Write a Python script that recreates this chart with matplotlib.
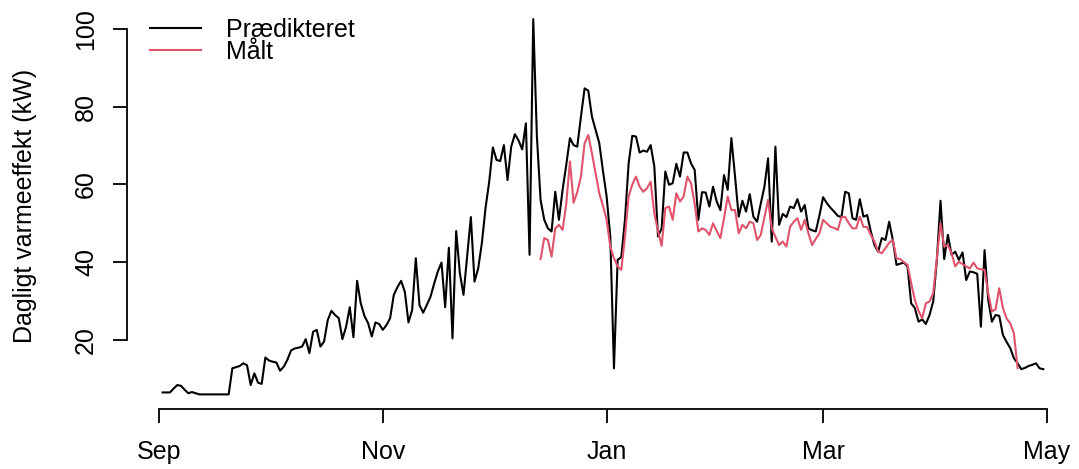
import matplotlib
matplotlib.use("Agg")
import matplotlib.pyplot as plt
import matplotlib.dates as mdates
import pandas as pd

plt.rcParams["font.family"] = ["Liberation Sans", "DejaVu Sans"]

# daily predicted heat demand (kW), from 2 Sep 2022
pred_start = "2022-09-02"
pred_kw = [
    6.5, 6.5, 6.5, 7.5, 8.4, 8.2, 7.2, 6.3, 6.6, 6.3,
    6.0, 6.0, 6.0, 6.0, 6.0, 6.0, 6.0, 6.0, 6.0, 12.7,
    13.0, 13.3, 14.0, 13.5, 8.4, 11.4, 9.0, 8.7, 15.5, 14.7,
    14.4, 14.2, 12.1, 13.1, 14.9, 17.3, 17.8, 18.0, 18.3, 20.2,
    16.6, 22.1, 22.6, 18.3, 19.6, 25.1, 27.5, 26.4, 25.6, 20.2,
    23.4, 28.4, 20.7, 35.2, 29.4, 26.2, 24.3, 20.9, 24.5, 24.1,
    22.6, 23.8, 25.6, 31.6, 33.6, 35.2, 32.4, 24.5, 27.7, 41.0,
    29.0, 27.0, 29.0, 31.1, 34.5, 37.6, 39.9, 28.4, 43.7, 20.4,
    48.0, 37.2, 31.6, 41.5, 51.6, 35.0, 38.4, 44.9, 53.9, 60.7,
    69.5, 66.3, 66.0, 70.1, 61.1, 69.7, 72.9, 71.3, 69.0, 75.7,
    41.9, 102.5, 72.3, 56.0, 50.9, 48.7, 47.9, 58.1, 50.9, 58.6,
    65.0, 71.9, 70.1, 69.7, 77.4, 84.7, 84.1, 77.4, 74.0, 70.6,
    63.5, 56.9, 46.6, 12.7, 40.6, 41.3, 50.9, 65.4, 72.5, 72.3,
    68.2, 68.7, 68.4, 70.1, 64.6, 46.6, 48.7, 63.3, 59.9, 60.3,
    65.3, 62.0, 68.2, 68.2, 65.4, 63.7, 50.9, 58.0, 57.9, 54.3,
    59.4, 55.6, 53.4, 62.4, 58.6, 71.9, 62.0, 51.7, 55.8, 53.0,
    57.5, 51.7, 50.4, 55.0, 59.4, 66.7, 45.3, 69.7, 49.6, 52.4,
    51.6, 54.3, 53.9, 56.2, 53.0, 54.7, 48.7, 48.2, 47.9, 52.0,
    56.7, 55.2, 54.0, 53.0, 51.9, 51.6, 58.1, 57.7, 51.3, 50.9,
    56.2, 51.7, 52.1, 47.9, 44.4, 42.7, 46.2, 45.7, 50.4, 45.7,
    39.3, 39.6, 39.9, 38.9, 29.4, 28.2, 24.7, 25.3, 24.1, 26.4,
    29.9, 40.6, 55.8, 40.8, 47.0, 41.9, 42.7, 40.6, 42.5, 35.4,
    37.6, 37.4, 37.0, 23.4, 43.1, 30.3, 24.7, 26.4, 26.2, 21.3,
    19.5, 17.9, 15.3, 14.0, 12.5, 12.8, 13.3, 13.6, 14.0, 12.7, 12.5,
]

# daily measured heat demand (kW), from 14 Dec 2022
meas_start = "2022-12-14"
meas_kw = [
    40.8, 46.2, 45.7, 41.4, 48.7, 49.6, 48.3,
    55.0, 65.9, 55.3, 58.0, 62.0, 70.6, 72.7, 68.0, 62.9, 57.7,
    54.5, 50.9, 44.0, 41.0, 38.9, 38.0, 46.6, 56.9, 60.0, 62.0,
    59.4, 58.1, 59.0, 60.7, 52.6, 48.0, 44.2, 53.9, 54.3, 50.9,
    57.7, 55.6, 56.9, 62.0, 60.3, 55.0, 47.9, 48.7, 48.3, 47.0,
    50.0, 48.0, 46.2, 51.3, 56.9, 53.4, 53.4, 47.4, 49.6, 48.7,
    50.4, 50.0, 45.7, 47.0, 51.5, 56.0, 48.7, 46.5, 44.4, 45.3,
    44.0, 49.1, 50.4, 51.3, 48.3, 50.9, 47.4, 44.4, 46.0, 47.4,
    50.9, 50.0, 49.1, 48.8, 48.3, 51.6, 51.6, 50.0, 48.7, 48.7,
    51.7, 49.1, 49.0, 47.0, 45.3, 42.7, 42.3, 43.6, 45.0, 45.7,
    41.0, 40.8, 40.0, 39.3, 34.6, 30.3, 27.5, 25.6, 29.4, 29.9,
    32.0, 41.0, 50.0, 44.0, 44.4, 42.3, 38.9, 40.1, 39.5, 38.9,
    38.4, 39.9, 38.4, 38.2, 38.0, 32.0, 27.3, 27.9, 33.3, 28.2,
    25.5, 24.3, 21.7, 12.8,
]

month_ticks = ["2022-09-01", "2022-11-01", "2023-01-01", "2023-03-01", "2023-05-01"]
y_ticks = [20, 40, 60, 80, 100]
labels = ["Prædikteret", "Målt"]

pred_dates = pd.date_range(pred_start, periods=len(pred_kw), freq="D")
meas_dates = pd.date_range(meas_start, periods=len(meas_kw), freq="D")

fig = plt.figure(figsize=(10.79, 4.69), dpi=100)
W, H = 1079, 469
ax = fig.add_axes([127.4 / W, 59.6 / H, (1078.5 - 127.4) / W, (464.9 - 59.6) / H])

ax.plot(pred_dates, pred_kw, color="black", lw=1.5, label=labels[0])
ax.plot(meas_dates, meas_kw, color="#DF536B", lw=1.5, label=labels[1])

# R style 4 % padding of the data range
x0, x1 = mdates.date2num(pred_dates[0]), mdates.date2num(pred_dates[-1])
pad = 0.04 * (x1 - x0)
ax.set_xlim(x0 - pad, x1 + pad)
y0, y1 = min(pred_kw + meas_kw), max(pred_kw + meas_kw)
ypad = 0.04 * (y1 - y0)
ax.set_ylim(y0 - ypad, y1 + ypad)

xt = mdates.date2num(pd.to_datetime(month_ticks))
ax.set_xticks(xt)
ax.set_xticklabels(pd.to_datetime(month_ticks).strftime("%b"), fontsize=18)
ax.set_yticks(y_ticks)
ax.set_yticklabels([str(v) for v in y_ticks], fontsize=18, rotation=90, va="center")

for s in ["top", "right"]:
    ax.spines[s].set_visible(False)
ax.spines["left"].set_bounds(y_ticks[0], y_ticks[-1])
ax.spines["bottom"].set_bounds(xt[0], xt[-1])
for s in ["left", "bottom"]:
    ax.spines[s].set_linewidth(1.3)
ax.tick_params(axis="both", direction="out", length=10, width=1.3)
ax.tick_params(axis="x", pad=12)
ax.tick_params(axis="y", pad=11)

fig.text(25 / W, 1 - 206 / H, "Dagligt varmeeffekt (kW)", rotation=90,
         ha="center", va="center", fontsize=18)

ax.legend(loc="upper left", bbox_to_anchor=(150 / W, 1 - 18 / H),
          bbox_transform=fig.transFigure, frameon=False, fontsize=18,
          borderpad=0, borderaxespad=0, handlelength=2.05, handletextpad=1.0,
          labelspacing=-0.08)

fig.savefig("out.png", dpi=100)
